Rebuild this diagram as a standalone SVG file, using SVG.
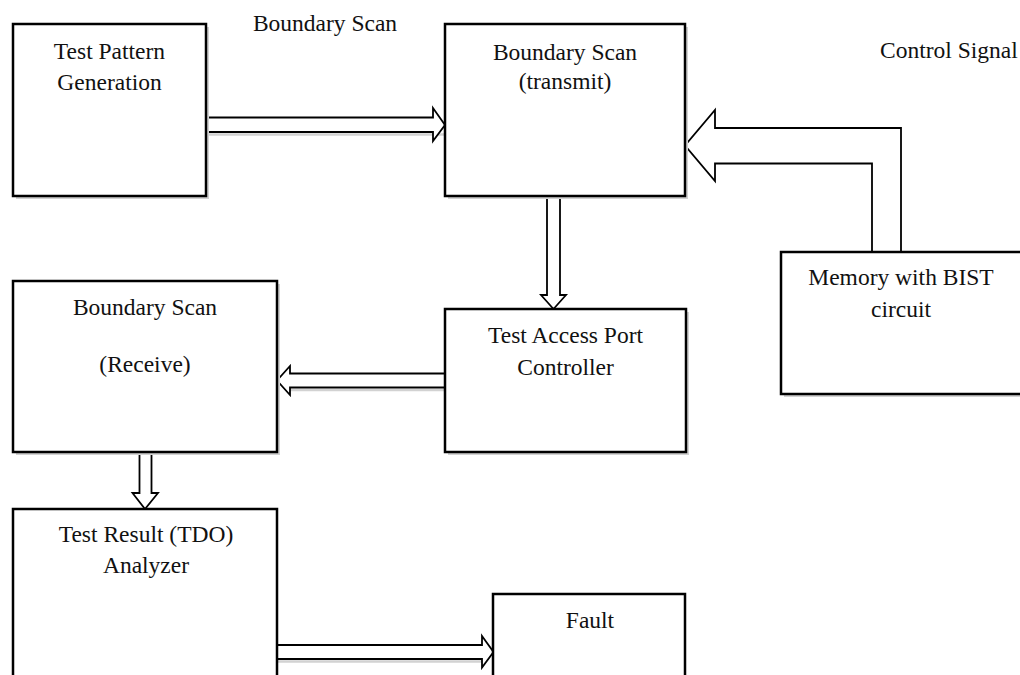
<svg xmlns="http://www.w3.org/2000/svg" width="1020" height="675" viewBox="0 0 1020 675">
<style>
.box{fill:#fff;stroke:#000;stroke-width:2.5}
.sh{fill:#d2d2d2}
.shl{fill:none;stroke:#d2d2d2;stroke-width:2.5}
.arrow{fill:#fff;stroke:#000;stroke-width:1.8;stroke-linejoin:miter}
text{font-family:"Liberation Serif","Times New Roman",serif;font-size:23.5px;fill:#111;text-anchor:middle}
</style>
<rect width="1020" height="675" fill="#fff"/>
<g id="label-boundary-scan"><text x="325" y="31">Boundary Scan</text></g>
<g id="label-control-signal"><text x="880" y="58" style="text-anchor:start">Control Signal</text></g>

<g id="connectors">
  <path class="shl" d="M206,134.5 L484,134.5"/>
  <path class="arrow" d="M206,117.5 L433,117.5 L433,108 L445,125 L433,141 L433,132 L206,132"/>
  <path class="arrow" d="M547,196 L547,295 L541,295 L553.5,309 L566,295 L560,295 L560,196"/>
  <path class="shl" d="M290,390 L445,390"/>
  <path class="arrow" d="M445,373.5 L290,373.5 L290,366 L277,380.5 L290,395 L290,387.5 L445,387.5"/>
  <path class="arrow" d="M139.5,452 L139.5,493 L132.5,493 L145,509 L158,493 L151.5,493 L151.5,452"/>
  <path class="shl" d="M277,661.5 L482,661.5"/>
  <path class="arrow" d="M277,645 L482,645 L482,636 L493.5,652 L482,667.5 L482,659 L277,659"/>
  <path class="arrow" d="M872,252 L872,163.5 L715,163.5 L715,181 L685,145.5 L715,110 L715,128 L901,128 L901,252"/>
</g>

<g id="node-test-pattern">
  <rect class="sh" x="16" y="27" width="193" height="172"/>
  <rect class="box" x="13" y="24" width="193" height="172"/>
  <text x="109.5" y="59">Test Pattern</text>
  <text x="109.5" y="90">Generation</text>
</g>
<g id="node-bs-transmit">
  <rect class="sh" x="448" y="27" width="240" height="172"/>
  <rect class="box" x="445" y="24" width="240" height="172"/>
  <text x="565" y="60">Boundary Scan</text>
  <text x="565" y="89">(transmit)</text>
</g>
<g id="node-tap">
  <rect class="sh" x="448" y="312" width="241" height="143"/>
  <rect class="box" x="445" y="309" width="241" height="143"/>
  <text x="565.5" y="343">Test Access Port</text>
  <text x="565.5" y="375">Controller</text>
</g>
<g id="node-memory">
  <rect class="sh" x="784" y="255" width="260" height="142"/>
  <rect class="box" x="781" y="252" width="260" height="142"/>
  <text x="901" y="285">Memory with BIST</text>
  <text x="901" y="317">circuit</text>
</g>
<g id="node-bs-receive">
  <rect class="sh" x="16" y="284" width="264" height="171"/>
  <rect class="box" x="13" y="281" width="264" height="171"/>
  <text x="145" y="315">Boundary Scan</text>
  <text x="145" y="372">(Receive)</text>
</g>
<g id="node-result">
  <rect class="box" x="13" y="509" width="264" height="200"/>
  <text x="146" y="542">Test Result (TDO)</text>
  <text x="146" y="573">Analyzer</text>
</g>
<g id="node-fault">
  <rect class="box" x="493" y="594" width="192" height="120"/>
  <text x="590" y="628">Fault</text>
</g>
</svg>
